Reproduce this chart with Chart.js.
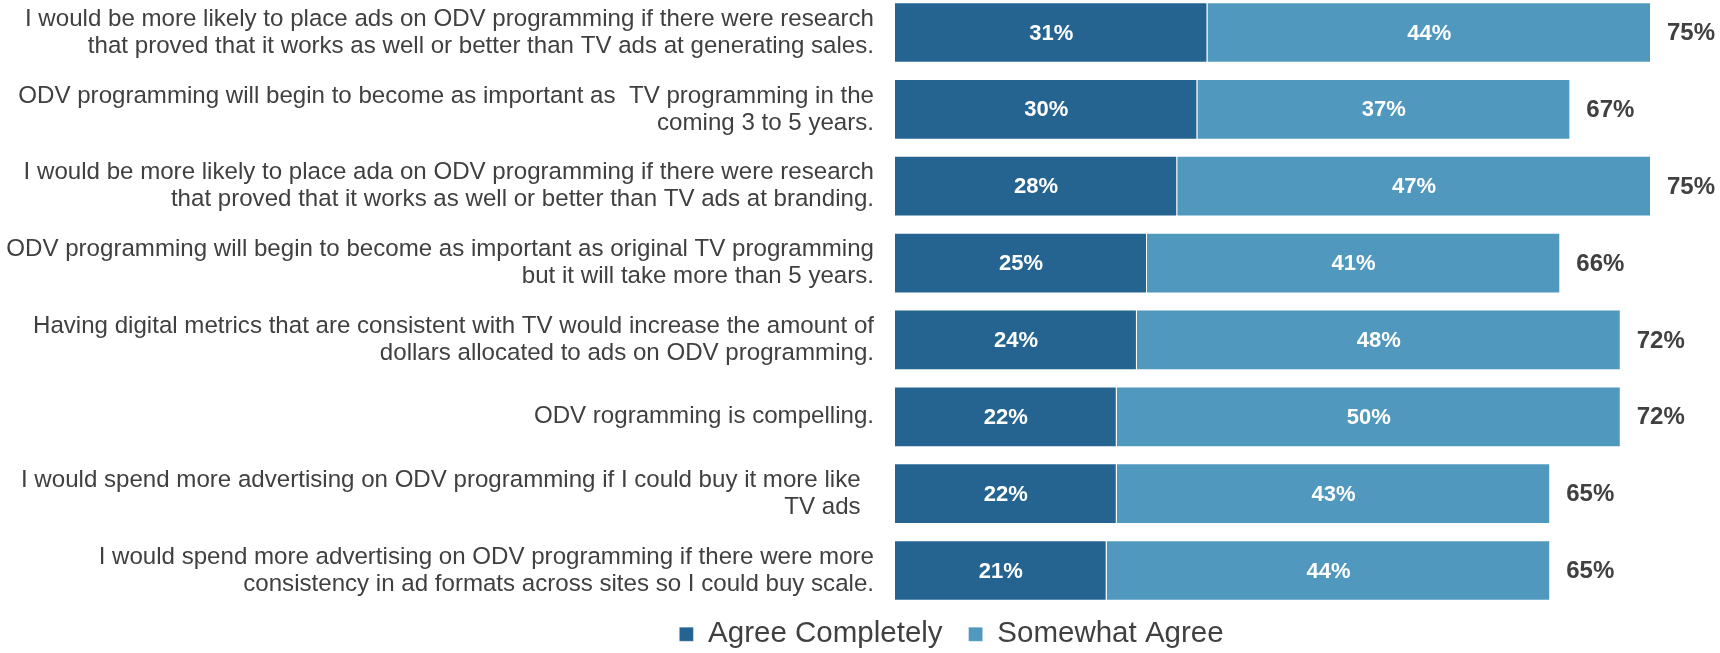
<!DOCTYPE html>
<html>
<head>
<meta charset="utf-8">
<title>ODV programming attitudes</title>
<script src="https://cdn.jsdelivr.net/npm/chart.js@4.4.1/dist/chart.umd.min.js"></script>
<style>
  html, body { margin: 0; padding: 0; background: #ffffff; overflow: hidden; }
  /* the x range runs to 100%, which sits past the right edge of the page */
  #wrap { position: relative; width: 1903px; height: 659px; }
</style>
</head>
<body>
<div id="wrap"><canvas id="odvChart"></canvas></div>
<script>
// statements, top to bottom
const statements = [
    ['I would be more likely to place ads on ODV programming if there were research',
     'that proved that it works as well or better than TV ads at generating sales.'],
    ['ODV programming will begin to become as important as  TV programming in the',
     'coming 3 to 5 years.'],
    ['I would be more likely to place ada on ODV programming if there were research',
     'that proved that it works as well or better than TV ads at branding.'],
    ['ODV programming will begin to become as important as original TV programming',
     'but it will take more than 5 years.'],
    ['Having digital metrics that are consistent with TV would increase the amount of',
     'dollars allocated to ads on ODV programming.'],
    'ODV rogramming is compelling.',
    ['I would spend more advertising on ODV programming if I could buy it more like  ',
     'TV ads  '],
    ['I would spend more advertising on ODV programming if there were more',
     'consistency in ad formats across sites so I could buy scale.']
];

const agreeCompletely = [31, 30, 28, 25, 24, 22, 22, 21];
const somewhatAgree   = [44, 37, 47, 41, 48, 50, 43, 44];
const seriesNames = ['Agree Completely', 'Somewhat Agree'];

const totals = agreeCompletely.map((v, i) => v + somewhatAgree[i]);

const DARK = '#256490';
const LIGHT = '#5098BD';
const EDGE = 'rgba(255, 255, 255, 0.22)';
const TEXT = '#404040';

Chart.defaults.font.family = '"Liberation Sans", Arial, sans-serif';
Chart.defaults.color = TEXT;

// percentages inside the bars and the stack total past the end
const valueLabels = {
    id: 'valueLabels',
    afterDatasetsDraw(chart) {
        const ctx = chart.ctx;
        ctx.save();
        ctx.textBaseline = 'middle';
        ctx.textAlign = 'center';
        ctx.fillStyle = '#ffffff';
        ctx.font = 'bold 22px "Liberation Sans", Arial, sans-serif';
        chart.data.datasets.forEach((ds, di) => {
            chart.getDatasetMeta(di).data.forEach((bar, i) => {
                ctx.fillText(ds.data[i] + '%', (bar.x + bar.base) / 2, bar.y + 1);
            });
        });
        const ends = chart.getDatasetMeta(chart.data.datasets.length - 1).data;
        ctx.textAlign = 'left';
        ctx.fillStyle = TEXT;
        ctx.font = 'bold 24px "Liberation Sans", Arial, sans-serif';
        ends.forEach((bar, i) => {
            ctx.fillText(totals[i] + '%', bar.x + 16, bar.y + 1);
        });
        ctx.restore();
    }
};

const ctx = document.getElementById('odvChart').getContext('2d');
new Chart(ctx, {
    type: 'bar',
    data: {
        labels: statements,
        datasets: [{
            label: seriesNames[0],
            data: agreeCompletely,
            backgroundColor: DARK,
            borderColor: EDGE,
            borderWidth: 1,
            categoryPercentage: 1,
            barPercentage: 0.79,
            clip: false
        }, {
            label: seriesNames[1],
            data: somewhatAgree,
            backgroundColor: LIGHT,
            borderColor: EDGE,
            borderWidth: 1,
            categoryPercentage: 1,
            barPercentage: 0.79,
            clip: false
        }]
    },
    options: {
        indexAxis: 'y',
        responsive: true,
        maintainAspectRatio: false,
        animation: false,
        layout: {
            padding: { top: 32.5, bottom: 0, left: 0, right: 0 }
        },
        scales: {
            x: {
                stacked: true,
                min: 0,
                max: 100,
                display: false
            },
            y: {
                stacked: true,
                offset: false,
                // tick marks stay hidden; their length only spaces the labels off the bars
                grid: { display: false, drawTicks: true, tickLength: 21 },
                border: { display: false },
                ticks: {
                    autoSkip: false,
                    padding: 0,
                    color: TEXT,
                    font: { size: 24.1, lineHeight: 1.12 }
                },
                afterFit(scale) {
                    scale.width = 895;
                }
            }
        },
        plugins: {
            tooltip: { enabled: false },
            legend: {
                position: 'bottom',
                title: { display: true, text: '', font: { size: 0 }, padding: { top: 23, bottom: 0 } },
                labels: {
                    color: TEXT,
                    font: { size: 29.5 },
                    boxWidth: 14,
                    boxHeight: 14,
                    padding: 26
                }
            }
        }
    },
    plugins: [valueLabels]
});
</script>
</body>
</html>
